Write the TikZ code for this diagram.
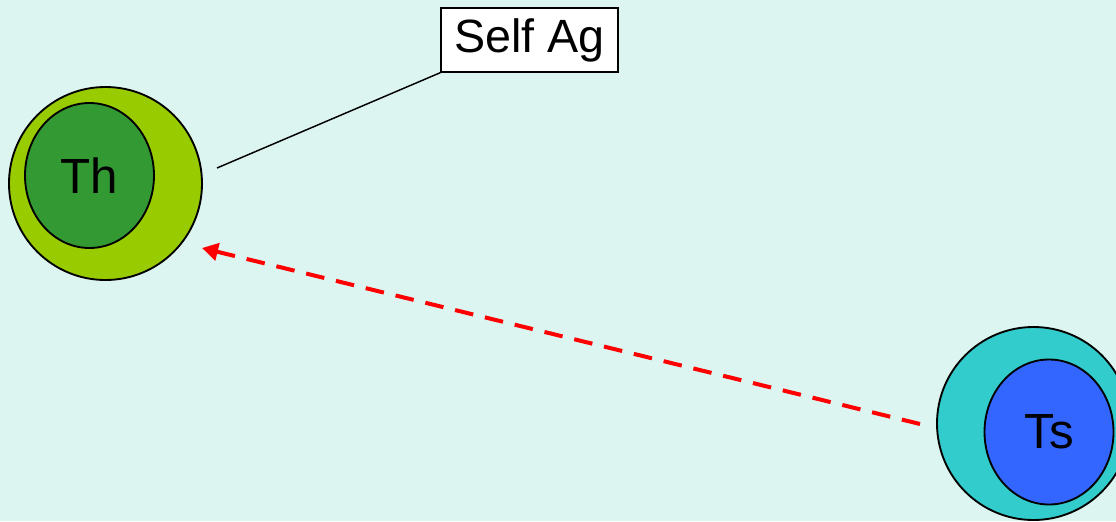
\documentclass[tikz,border=0pt]{standalone}
\usepackage{fontspec}
\setmainfont{Liberation Sans}
\usetikzlibrary{shapes.geometric,arrows.meta}
\definecolor{bgc}{RGB}{221,245,240}
\definecolor{thout}{RGB}{153,204,0}
\definecolor{thin}{RGB}{51,153,51}
\definecolor{tsout}{RGB}{51,204,204}
\definecolor{tsin}{RGB}{51,102,255}
\definecolor{arrred}{RGB}{255,0,0}
\tikzset{
  outerc/.style={circle, draw=black, line width=1.4pt, minimum size=193*0.75pt, inner sep=0pt},
  innere/.style={ellipse, draw=black, line width=1.4pt, minimum width=129*0.75pt, minimum height=145*0.75pt, inner sep=0pt, font=\fontsize{37}{40}\selectfont},
  labelbox/.style={draw=black, fill=white, line width=1pt, minimum width=177*0.75pt, minimum height=64*0.75pt, inner sep=0pt, font=\fontsize{35}{38}\selectfont},
  connector/.style={draw=black, line width=1.1pt},
  redarrow/.style={draw=arrred, line width=3pt, dash pattern=on 14pt off 9pt, -{Triangle[length=12pt,width=13pt]}}
}
\begin{document}
\begin{tikzpicture}[x=0.75pt,y=-0.75pt]
\clip (0,0) rectangle (1116,521);
\fill[bgc] (0,0) rectangle (1116,521);
\useasboundingbox (0,0) rectangle (1116,521);
% Th
\node[outerc, fill=thout] (tho) at (105.5,183.5) {};
\node[innere, fill=thin] (thi) at (89.5,175.5) {Th};
% Ts
\node[outerc, fill=tsout] (tso) at (1033.5,423.5) {};
\node[innere, fill=tsin] (tsi) at (1049,432) {Ts};
% Self Ag
\node[labelbox] (self) at (529.5,40) {\raisebox{-1.5pt}{Self Ag}};
\coordinate (lstart) at (217,168);
\draw[connector] (lstart) -- (self.south west);
% red dashed arrow
\coordinate (atail) at (920,424);
\coordinate (ahead) at (202,248);
\draw[redarrow] (atail) -- (ahead);
\end{tikzpicture}
\end{document}
